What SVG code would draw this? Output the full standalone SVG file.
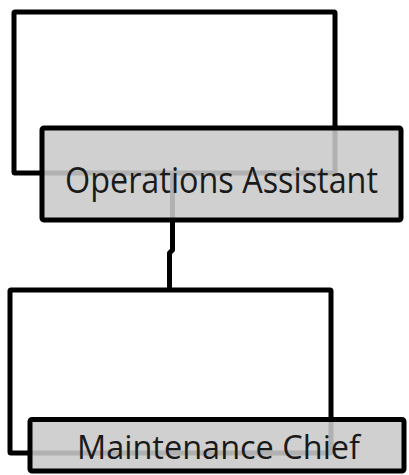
<svg xmlns="http://www.w3.org/2000/svg" width="409" height="475" viewBox="0 0 409 475">
  <style>
    .wire { fill: none; stroke: #000; stroke-width: 5; stroke-linejoin: round; }
    .box { fill: #c8c9c8; fill-opacity: 0.88; stroke: #000; stroke-width: 5; }
    .label { font-family: "Open Sans", "Noto Sans", sans-serif; fill: #1a1a1a; }
  </style>
  <rect width="409" height="475" fill="#fff"/>
  <g id="connectors">
    <rect class="wire" x="14" y="12" width="321" height="161" rx="1"/>
    <path class="wire" d="M172.5,173 V250 L169.5,253 V290"/>
    <rect class="wire" x="10" y="290" width="321" height="163" rx="1"/>
  </g>
  <g id="operations-assistant">
    <rect class="box" x="42" y="128" width="359" height="92" rx="2"/>
    <text class="label" x="65" y="193" font-size="36" textLength="313" lengthAdjust="spacingAndGlyphs">Operations Assistant</text>
  </g>
  <g id="maintenance-chief">
    <rect class="box" x="30" y="419.5" width="374" height="51.5" rx="2"/>
    <text class="label" x="77" y="459" font-size="32" textLength="283" lengthAdjust="spacingAndGlyphs">Maintenance Chief</text>
  </g>
</svg>
